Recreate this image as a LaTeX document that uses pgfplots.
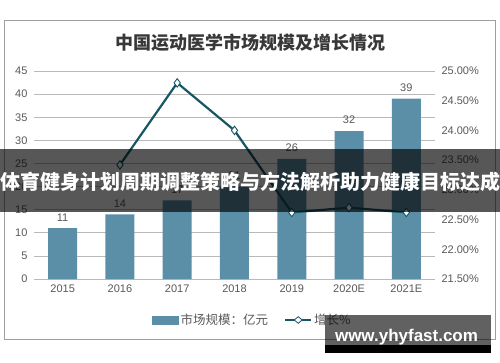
\documentclass[border=0pt]{standalone}
\usepackage{pgfplots}
\pgfplotsset{compat=1.18}
\usepackage{fontspec}
\setmainfont{Liberation Sans}
\newfontfamily\cjk{Noto Sans CJK SC}
\definecolor{barc}{RGB}{91,143,168}
\definecolor{linec}{RGB}{23,87,99}
\definecolor{txt}{RGB}{89,89,89}
\begin{document}
\begin{tikzpicture}[x=1pt,y=1pt]
\useasboundingbox (0,0) rectangle (500,362);
\fill[white] (0,0) rectangle (500,362);
\draw[gray!75, line width=0.8pt] (4,23) rectangle (495,342);
\node[font=\cjk\bfseries\fontsize{18}{21}\selectfont, text=black!78] at (250,319) {中国运动医学市场规模及增长情况};
\begin{axis}[at={(34pt,83pt)}, anchor=south west, scale only axis,
  width=401pt, height=208pt,
  xmin=-0.5, xmax=6.5, ymin=0, ymax=45,
  ytick={0,5,10,15,20,25,30,35,40,45},
  xtick={0,1,2,3,4,5,6},
  xticklabels={2015,2016,2017,2018,2019,2020E,2021E},
  axis line style={draw=none}, major tick length=0pt,
  ymajorgrids, grid style={gray!55, line width=0.7pt},
  ticklabel style={font=\fontsize{11}{13}\selectfont, text=txt},
  /pgf/number format/assume math mode=true,
  yticklabel style={xshift=-3pt},
  xticklabel style={yshift=-2pt},
  ybar, bar width=29pt,
  point meta=explicit symbolic,
  nodes near coords,
  every node near coord/.append style={font=\fontsize{11}{13}\selectfont, text=txt, yshift=3.5pt},
]
\addplot[fill=barc, draw=none] coordinates {(0,11) [11] (1,14) [14] (2,17) [17] (3,20) [21] (4,26) [26] (5,32) [32] (6,39) [39]};
\end{axis}
\begin{axis}[at={(34pt,83pt)}, anchor=south west, scale only axis,
  width=401pt, height=208pt,
  xmin=-0.5, xmax=6.5, ymin=21.5, ymax=25,
  ytick={21.5,22,22.5,23,23.5,24,24.5,25},
  axis y line*=right, axis x line=none,
  axis line style={draw=none}, major tick length=0pt,
  ticklabel style={font=\fontsize{11}{13}\selectfont, text=txt},
  /pgf/number format/assume math mode=true,
  yticklabel={\pgfmathprintnumber[fixed,fixed zerofill,precision=2]{\tick}\%},
  yticklabel style={xshift=3pt},
  legend columns=2,
  legend style={at={(0.545,-0.197)}, anchor=center, draw=none, fill=none,
    font=\cjk\fontsize{12.5}{14}\selectfont, text=txt,
    /tikz/every even column/.append style={column sep=14pt}},
]
\addlegendimage{legend image code/.code={\fill[barc] (-2pt,-4pt) rectangle (24pt,4pt);}}
\addlegendentry{市场规模：亿元}
\addplot[linec, line width=2.2pt, mark=diamond*, mark size=4.2pt,
  mark options={fill=white, draw=linec, line width=0.9pt},
  legend image code/.code={\draw[linec,line width=2pt] (-2pt,0pt)--(24pt,0pt);
    \draw[linec,fill=white,line width=0.8pt] (7pt,0pt)--(11pt,3.3pt)--(15pt,0pt)--(11pt,-3.3pt)--cycle;}]
  coordinates {(1,23.42) (2,24.80) (3,24.00) (4,22.62) (5,22.70) (6,22.62)};
\addlegendentry{增长\%}
\end{axis}
\fill[black, opacity=0.66] (0,150) rectangle (500,213);
\node[text=white, font=\cjk\bfseries\fontsize{20}{22}\selectfont] at (250,180) {体育健身计划周期调整策略与方法解析助力健康目标达成};
\fill[black, opacity=0.62] (325,17) rectangle (491,47);
\fill[black] (325,9) rectangle (491,17);
\node[text=white, font=\bfseries\fontsize{17}{19}\selectfont] at (406.5,25) {www.yhyfast.com};
\end{tikzpicture}
\end{document}
